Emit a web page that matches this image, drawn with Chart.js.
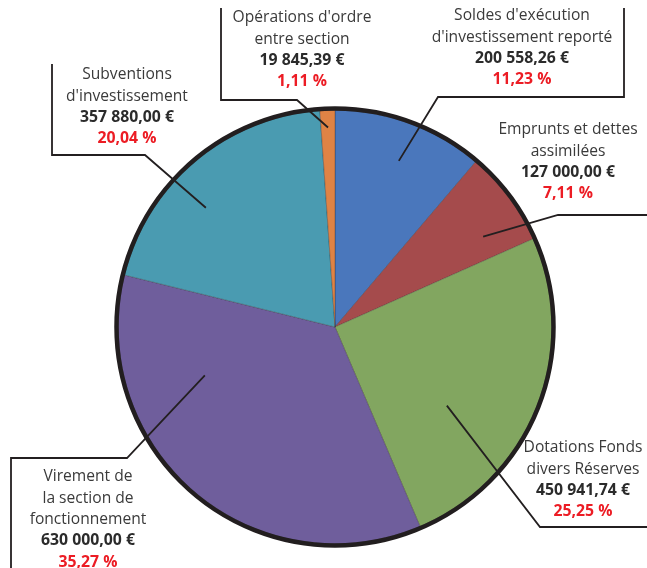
<!DOCTYPE html>
<html>
<head>
<meta charset="utf-8">
<script src="https://cdn.jsdelivr.net/npm/chart.js@4/dist/chart.umd.min.js"></script>
<style>
  body { margin: 0; background: #fff; }
  #wrap { width: 647px; height: 568px; position: relative; }
</style>
</head>
<body>
<div id="wrap"><canvas id="pieChart" width="647" height="568"></canvas></div>
<script>
const categories = [
    ["Soldes d'exécution", "d'investissement reporté"],
    ["Emprunts et dettes", "assimilées"],
    ["Dotations Fonds", "divers Réserves"],
    ["Virement de", "la section de", "fonctionnement"],
    ["Subventions", "d'investissement"],
    ["Opérations d'ordre", "entre section"],
];
const amounts = [200558.26, 127000.00, 450941.74, 630000.00, 357880.00, 19845.39];
const amountLabels = ["200 558,26 €", "127 000,00 €", "450 941,74 €", "630 000,00 €", "357 880,00 €", "19 845,39 €"];
const percentLabels = ["11,23 %", "7,11 %", "25,25 %", "35,27 %", "20,04 %", "1,11 %"];
const colors = ["#4a77bc", "#a54b4c", "#82a660", "#6f5e9c", "#4a9bb1", "#df8345"];

// label placement: text centre x, first line y, leader elbow points, and where
// the leader ends inside the slice (fraction of slice span, fraction of radius)
const labelLayout = [
    { x: 522, y: 16, path: [[624, 8], [624, 97], [438, 97]], t: 0.52, r: 0.82 },
    { x: 568, y: 130, path: [[647, 215], [558, 215]], t: 0.71, r: 0.80 },
    { x: 583, y: 448, path: [[647, 527], [540, 527]], t: 0.65, r: 0.63 },
    { x: 88, y: 477, path: [[11, 568], [11, 458], [127, 458]], t: 0.73, r: 0.64 },
    { x: 127, y: 75, path: [[52, 64], [52, 155], [145, 155]], t: 0.40, r: 0.81 },
    { x: 302, y: 18, path: [[221, 8], [221, 100], [297, 100]], t: 0.50, r: 0.92 },
];

const labelPlugin = {
    id: "labels",
    afterDatasetsDraw(chart) {
        const ctx = chart.ctx;
        const arcs = chart.getDatasetMeta(0).data;
        const first = arcs[0];

        // thick outer rim
        ctx.save();
        ctx.beginPath();
        ctx.arc(first.x, first.y, first.outerRadius + 1.5, 0, Math.PI * 2);
        ctx.lineWidth = 4.5;
        ctx.strokeStyle = "#221e1f";
        ctx.stroke();

        arcs.forEach((arc, i) => {
            const lay = labelLayout[i];
            const ang = arc.startAngle + lay.t * (arc.endAngle - arc.startAngle);
            const ex = arc.x + Math.cos(ang) * arc.outerRadius * lay.r;
            const ey = arc.y + Math.sin(ang) * arc.outerRadius * lay.r;

            ctx.beginPath();
            ctx.moveTo(lay.path[0][0], lay.path[0][1]);
            for (let k = 1; k < lay.path.length; k++) {
                ctx.lineTo(lay.path[k][0], lay.path[k][1]);
            }
            ctx.lineTo(ex, ey);
            ctx.lineWidth = 1.8;
            ctx.strokeStyle = "#231f20";
            ctx.stroke();

            ctx.textAlign = "center";
            ctx.textBaseline = "middle";
            let y = lay.y;
            categories[i].forEach((line) => {
                ctx.font = "15.6px 'Open Sans'";
                ctx.fillStyle = "#3a3a3a";
                ctx.fillText(line, lay.x, y);
                y += 21.3;
            });
            ctx.font = "bold 15.8px 'Open Sans'";
            ctx.fillStyle = "#2b2b2b";
            ctx.fillText(amountLabels[i], lay.x, y);
            y += 21.3;
            ctx.fillStyle = "#ec1c24";
            ctx.fillText(percentLabels[i], lay.x, y);
        });
        ctx.restore();
    },
};

const ctx = document.getElementById("pieChart").getContext("2d");
const pieChart = new Chart(ctx, {
    type: "pie",
    data: {
        labels: categories.map((c) => c.join(" ")),
        datasets: [
            {
                data: amounts,
                backgroundColor: colors,
                borderColor: "rgba(40,30,30,0.35)",
                borderWidth: 0.8,
                radius: 217,
            },
        ],
    },
    plugins: [labelPlugin],
    options: {
        responsive: false,
        animation: false,
        layout: {
            padding: { left: 118, right: 95, top: 110, bottom: 24 },
        },
        plugins: {
            legend: { display: false },
            tooltip: { enabled: false },
        },
    },
});
</script>
</body>
</html>
